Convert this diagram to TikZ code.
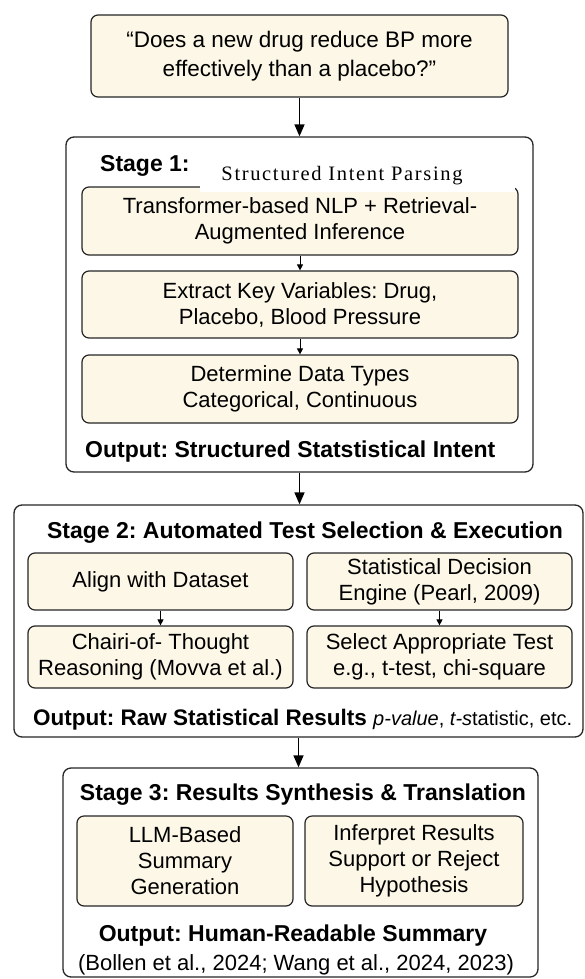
\documentclass[tikz,border=0pt]{standalone}
\usepackage{fontspec}
\setmainfont{Liberation Sans}
\newfontfamily\serifpart[LetterSpace=8]{Liberation Serif}
\usetikzlibrary{arrows.meta}
\definecolor{cream}{HTML}{FCF7E6}
\definecolor{edge}{HTML}{262626}
\tikzset{
 stagebox/.style={draw=edge, line width=1.3pt, rounded corners=8pt, fill=white, inner sep=0},
 itembox/.style={draw=edge, line width=1.2pt, rounded corners=7pt, fill=cream, align=center, inner sep=0, font=\fontsize{22}{26}\selectfont},
 bigarrow/.style={draw=black, line width=1.4pt, -{Triangle[length=12pt,width=10pt]}},
 smallarrow/.style={draw=black, line width=0.9pt, -{Triangle[length=6pt,width=6pt]}},
 titletext/.style={inner sep=0, font=\fontsize{23}{27}\selectfont\bfseries},
 bodytext/.style={inner sep=0, align=center, font=\fontsize{22}{26}\selectfont},
}
\frenchspacing
\begin{document}
\frenchspacing
\begin{tikzpicture}[x=1pt,y=-1pt]
\useasboundingbox[fill=white] (0,0) rectangle (584,979);
% question
\node[itembox, minimum width=417pt, minimum height=82pt, font=\fontsize{22.5}{29}\selectfont] (q) at (299.5,56) {“Does a new drug reduce BP more\\effectively than a placebo?”};
% stage 1
\node[stagebox, minimum width=467pt, minimum height=335pt] (s1) at (299.5,304.5) {};
\node[titletext, anchor=base west] (s1t) at (100,171) {Stage 1:};
\node[itembox, minimum width=436pt, minimum height=68pt] (a1) at (300,221) {Transformer-based NLP + Retrieval-\\Augmented Inference};
\node[itembox, minimum width=436pt, minimum height=67pt] (a2) at (300,304.5) {Extract Key Variables: Drug,\\Placebo, Blood Pressure};
\node[itembox, minimum width=436pt, minimum height=68pt] (a3) at (300,389) {Determine Data Types\\Categorical, Continuous};
\node[fill=white, inner sep=0, minimum width=315pt, minimum height=52pt] (mask) at (357.5,166) {};
\node[inner sep=0, anchor=base, font=\serifpart\fontsize{20.5}{24}\selectfont] (s1sub) at (342,180) {Structured Intent Parsing};
\node[titletext, anchor=base west] (s1o) at (85,457) {Output: Structured Statstistical Intent};
\draw[smallarrow] (a1.south) -- (a2.north);
\draw[smallarrow] (a2.south) -- (a3.north);
% stage 2
\node[stagebox, minimum width=569pt, minimum height=232pt] (s2) at (298.5,621) {};
\node[titletext, anchor=base] (s2t) at (305,538) {Stage 2: Automated Test Selection \& Execution};
\node[itembox, minimum width=265pt, minimum height=57pt] (b1) at (160.5,581.5) {Align with Dataset};
\node[itembox, minimum width=265pt, minimum height=57pt] (b2) at (439.5,581.5) {Statistical Decision\\Engine (Pearl, 2009)};
\node[itembox, minimum width=265pt, minimum height=62pt] (b3) at (160.5,657) {Chairi-of- Thought\\Reasoning (Movva et al.)};
\node[itembox, minimum width=265pt, minimum height=62pt] (b4) at (439.5,657) {Select Appropriate Test\\e.g., t-test, chi-square};
\node[titletext, anchor=base west, font=\fontsize{22.5}{27}\selectfont\bfseries] (s2o) at (33,725) {Output: Raw Statistical Results {\mdseries\fontsize{20}{24}\selectfont\itshape p-value\upshape, \itshape t-s\upshape tatistic, etc.}};
\draw[smallarrow] (b1.south) -- (b3.north);
\draw[smallarrow] (b2.south) -- (b4.north);
% stage 3
\node[stagebox, minimum width=475pt, minimum height=209pt] (s3) at (300.5,872.5) {};
\node[titletext, anchor=base] (s3t) at (303,800) {Stage 3: Results Synthesis \& Translation};
\node[itembox, minimum width=216pt, minimum height=90pt] (c1) at (185,861) {LLM-Based\\Summary\\Generation};
\node[itembox, minimum width=218pt, minimum height=90pt] (c2) at (414,861) {Inferpret Results\\Support or Reject\\Hypothesis};
\node[titletext, anchor=base] (s3o) at (293,941) {Output: Human-Readable Summary};
\node[bodytext, anchor=base] (s3c) at (296,970) {(Bollen et al., 2024; Wang et al., 2024, 2023)};
% main arrows
\draw[bigarrow] (q.south) -- (s1.north);
\draw[bigarrow] (s1.south) -- (s1.south |- s2.north);
\draw[bigarrow] (s2.south) -- (s2.south |- s3.north);
\end{tikzpicture}
\end{document}
